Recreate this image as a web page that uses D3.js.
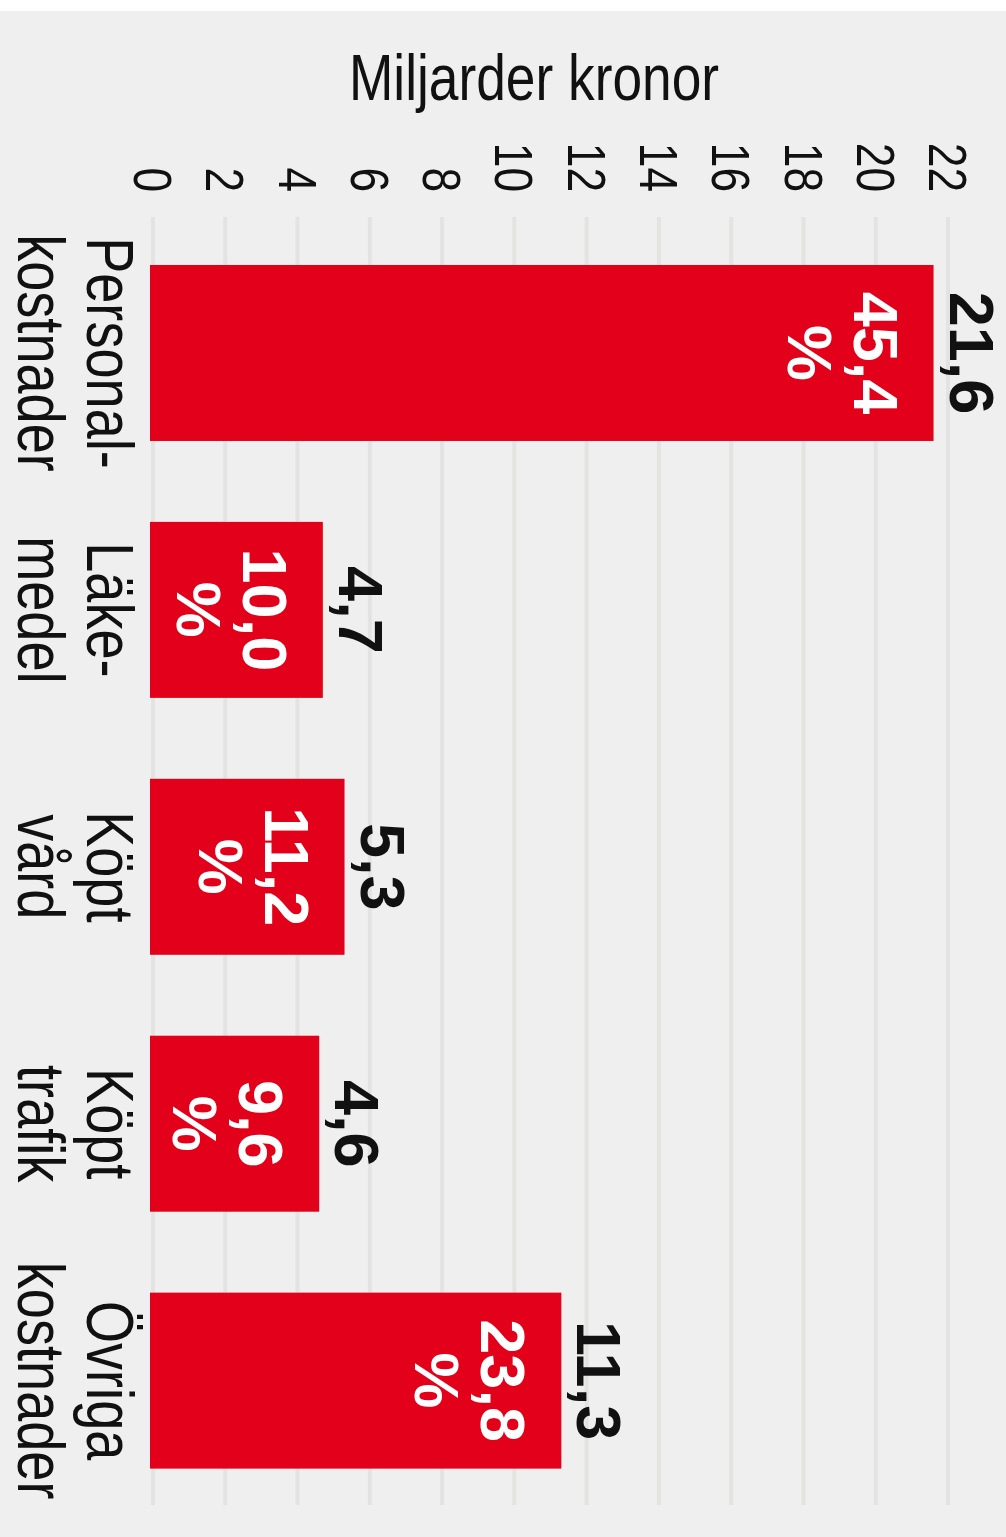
<!DOCTYPE html>
<html>
<head>
<meta charset="utf-8">
<script src="https://cdn.jsdelivr.net/npm/d3@7"></script>
<style>
  html, body { margin: 0; padding: 0; background: #ffffff; }
  svg { display: block; }
</style>
</head>
<body>
<script>
// ---- data ----
const categories = ["Personalkostnader", "Läkemedel", "Köpt vård", "Köpt trafik", "Övriga kostnader"];
const categoryLines = [["Personal-", "kostnader"], ["Läke-", "medel"], ["Köpt", "vård"], ["Köpt", "trafik"], ["Övriga", "kostnader"]];
const values = [21.6, 4.7, 5.3, 4.6, 11.3];      // miljarder kronor
const shares = [45.4, 10.0, 11.2, 9.6, 23.8];    // procent
const tickValues = [0, 2, 4, 6, 8, 10, 12, 14, 16, 18, 20, 22];
const axisTitle = "Miljarder kronor";

// ---- layout ----
const W = 1006, H = 1537;
const FONT = "'Liberation Sans', Arial, sans-serif";
const NARROW = 0.82;

const svg = d3.select("body").append("svg").attr("width", W).attr("height", H);

svg.append("rect").attr("x", 0).attr("y", 0).attr("width", W).attr("height", H).attr("fill", "#efefef");
svg.append("rect").attr("x", 0).attr("y", 0).attr("width", W).attr("height", 11).attr("fill", "#ffffff");

const x = d3.scaleLinear().domain([0, 22]).range([153, 948]);
const y = d3.scaleBand().domain(categories).range([213.6, 1520]).paddingInner(0.315).paddingOuter(0.2);
const bw = y.bandwidth();
const fmt = v => d3.format(".1f")(v).replace(".", ",");

// gridlines
svg.append("g").selectAll("line").data(tickValues).join("line")
  .attr("x1", d => x(d)).attr("x2", d => x(d))
  .attr("y1", 217).attr("y2", 1505)
  .attr("stroke", "#e3e4e1").attr("stroke-width", 4);

// tick labels (rotated)
svg.append("g").selectAll("text").data(tickValues).join("text")
  .attr("transform", d => `translate(${x(d)},192) rotate(90) scale(${NARROW},1)`)
  .attr("text-anchor", "end").attr("dy", "0.35em")
  .attr("font-family", FONT).attr("font-size", 54).attr("fill", "#111")
  .text(d => d);

// axis title
svg.append("text")
  .attr("transform", `translate(534,100) scale(${NARROW},1)`)
  .attr("text-anchor", "middle")
  .attr("font-family", FONT).attr("font-size", 65).attr("fill", "#111")
  .text(axisTitle);

// bars
svg.append("g").selectAll("rect").data(categories).join("rect")
  .attr("x", x(0) - 3)
  .attr("y", d => y(d))
  .attr("width", (d, i) => x(values[i]) - x(0) + 3)
  .attr("height", bw)
  .attr("fill", "#e2001a");

// value labels
svg.append("g").selectAll("text").data(categories).join("text")
  .attr("transform", (d, i) => `translate(${x(values[i]) + 16},${y(d) + bw / 2}) rotate(90)`)
  .attr("text-anchor", "middle")
  .attr("font-family", FONT).attr("font-weight", "bold").attr("font-size", 63).attr("fill", "#111")
  .text((d, i) => fmt(values[i]));

// share labels inside bars (two lines)
const shareG = svg.append("g").selectAll("g").data(categories).join("g")
  .attr("transform", (d, i) => `translate(${x(values[i]) - 80},${y(d) + bw / 2}) rotate(90)`);
shareG.append("text")
  .attr("text-anchor", "middle")
  .attr("font-family", FONT).attr("font-weight", "bold").attr("font-size", 63).attr("fill", "#ffffff")
  .text((d, i) => fmt(shares[i]));
shareG.append("text")
  .attr("text-anchor", "middle").attr("y", 66)
  .attr("font-family", FONT).attr("font-weight", "bold").attr("font-size", 63).attr("fill", "#ffffff")
  .text("%");

// category labels (two lines, rotated)
const catG = svg.append("g").selectAll("g").data(categories).join("g")
  .attr("transform", d => `translate(87,${y(d) + bw / 2}) rotate(90)`);
catG.selectAll("text").data((d, i) => categoryLines[i]).join("text")
  .attr("text-anchor", "middle")
  .attr("transform", (d, j) => `translate(0,${j * 69}) scale(${NARROW},1)`)
  .attr("font-family", FONT).attr("font-size", 66).attr("fill", "#111")
  .text(d => d);
</script>
</body>
</html>
